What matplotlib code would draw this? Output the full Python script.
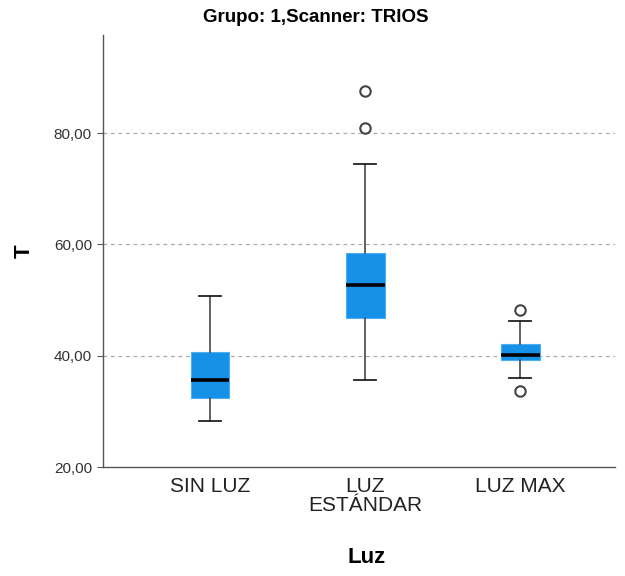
import matplotlib
matplotlib.use("Agg")
import matplotlib.pyplot as plt
from matplotlib.ticker import FuncFormatter

# Five-number summaries per lighting condition
categories = ["SIN LUZ", "LUZ\nESTÁNDAR", "LUZ MAX"]
whisker_low = [28.3, 35.6, 36.0]
q1 = [32.4, 46.7, 39.2]
median = [35.6, 52.7, 40.1]
q3 = [40.6, 58.4, 42.1]
whisker_high = [50.7, 74.4, 46.2]
outliers = [[], [80.9, 87.5], [48.2, 33.6]]

yticks = [20, 40, 60, 80]

stats = []
for i, lab in enumerate(categories):
    stats.append(dict(label=lab, whislo=whisker_low[i], q1=q1[i], med=median[i],
                      q3=q3[i], whishi=whisker_high[i], fliers=outliers[i]))

fig = plt.figure(figsize=(6.25, 5.76), dpi=100)
ax = fig.add_axes([0.1648, 0.1892, 0.8192, 0.7500])

ax.bxp(stats, positions=[0, 1, 2], widths=0.25, patch_artist=True,
       boxprops=dict(facecolor="#1591E8", edgecolor="#4DAEF0", linewidth=0.8),
       medianprops=dict(color="black", linewidth=2.6),
       whiskerprops=dict(color="#555555", linewidth=1.3),
       capprops=dict(color="#222222", linewidth=1.3),
       capwidths=0.14,
       flierprops=dict(marker="o", markerfacecolor="white", markeredgecolor="#444444",
                       markersize=7.5, markeredgewidth=1.5),
       zorder=3)

ax.set_xlim(-0.69, 2.61)
ax.set_ylim(20, 97.6)
ax.set_yticks(yticks)
ax.yaxis.set_major_formatter(FuncFormatter(lambda v, p: f"{v:.2f}".replace(".", ",")))

for y in yticks[1:]:
    ax.axhline(y, color="#AAAAAA", linestyle=(0, (3, 3)), linewidth=0.9, zorder=1)

for s in ["top", "right"]:
    ax.spines[s].set_visible(False)
for s in ["left", "bottom"]:
    ax.spines[s].set_color("#555555")
    ax.spines[s].set_linewidth(1.0)

ax.tick_params(axis="y", length=4, color="#555555", labelsize=11, labelcolor="#333333", pad=4)
ax.tick_params(axis="x", length=0, labelsize=15, labelcolor="#222222", pad=7)
for t in ax.get_yticklabels():
    t.set_fontfamily(["Liberation Sans", "DejaVu Sans"])
for t in ax.get_xticklabels():
    t.set_fontfamily(["Liberation Sans", "DejaVu Sans"])
    t.set_linespacing(1.05)

ax.set_ylabel("T", fontsize=16, fontweight="bold", family=["Liberation Sans", "DejaVu Sans"], labelpad=14)
ax.set_xlabel("Luz", fontsize=16, fontweight="bold", family=["Liberation Sans", "DejaVu Sans"])
ax.xaxis.set_label_coords(0.515, -0.185)
fig.text(316 / 625, 1 - 18 / 576, "Grupo: 1,Scanner: TRIOS", fontsize=13.5, fontweight="bold",
         ha="center", va="center",
         family=["Liberation Sans Narrow", "Liberation Sans", "DejaVu Sans"])

fig.savefig("out.png", dpi=100, facecolor="white")
